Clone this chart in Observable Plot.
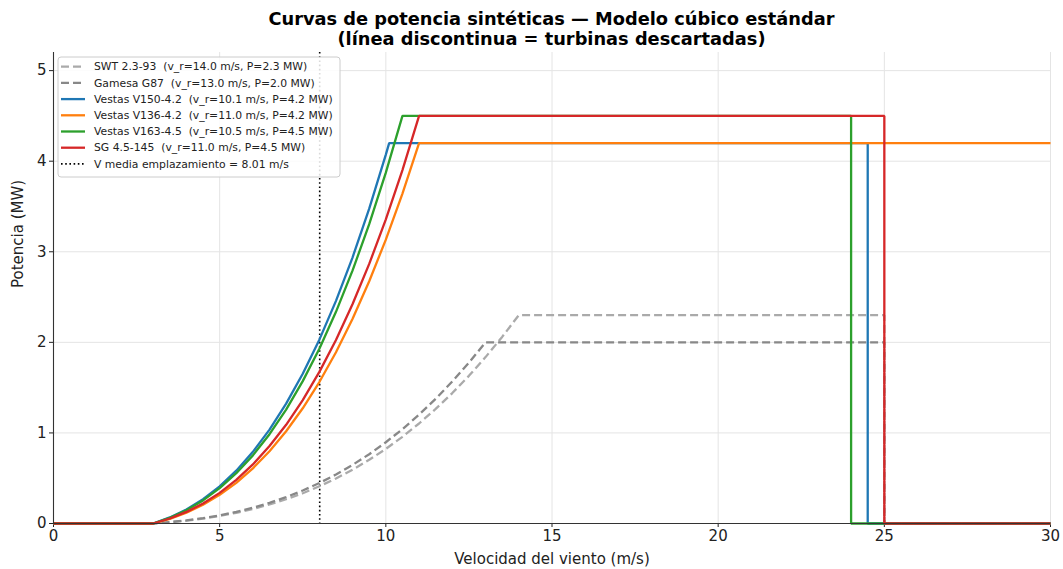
<!DOCTYPE html>
<html>
<head>
<meta charset="utf-8">
<script src="https://cdn.jsdelivr.net/npm/d3@7"></script>
<script src="https://cdn.jsdelivr.net/npm/@observablehq/plot@0.6"></script>
<style>
  html, body { margin: 0; padding: 0; background: white; }
  #title { width: 1103px; height: 50px; text-align: center; font-family: 'DejaVu Sans', sans-serif;
           font-weight: bold; font-size: 17.8px; line-height: 20px; color: #000; padding-top: 9px; box-sizing: border-box; }
</style>
</head>
<body>
<div id="title">Curvas de potencia sintéticas — Modelo cúbico estándar<br>(línea discontinua = turbinas descartadas)</div>
<div id="chart"></div>
<script>
// ---- Data ----
const turbines    = ["SWT 2.3-93", "Gamesa G87", "Vestas V150-4.2", "Vestas V136-4.2", "Vestas V163-4.5", "SG 4.5-145"];
const ratedSpeed  = [14.0, 13.0, 10.1, 11.0, 10.5, 11.0];
const ratedPower  = [2.3, 2.0, 4.2, 4.2, 4.5, 4.5];
const cutOut      = [25, 25, 24.5, null, 24, 25];
const discarded   = [true, true, false, false, false, false];
const colors      = ["#aaaaaa", "#888888", "#1f77b4", "#ff7f0e", "#2ca02c", "#d62728"];
const cutIn       = 3;
const vMean       = 8.01;

const rampSpeed   = [3, 3.5, 4, 4.5, 5, 5.5, 6, 6.5, 7, 7.5, 8, 8.5, 9, 9.5, 10, 10.5, 11, 11.5, 12, 12.5, 13, 13.5, 14];
const swtPower    = [0, 0.013, 0.031, 0.054, 0.083, 0.118, 0.160, 0.210, 0.268, 0.334, 0.411, 0.497, 0.594, 0.703, 0.824, 0.957, 1.104, 1.265, 1.440, 1.630, 1.837, 2.060, 2.3];
const gamesaPower = [0, 0.015, 0.034, 0.059, 0.090, 0.128, 0.174, 0.228, 0.291, 0.364, 0.447, 0.541, 0.647, 0.765, 0.897, 1.042, 1.202, 1.377, 1.568, 1.775, 2.0];
const v150Power   = [0, 0.067, 0.155, 0.268, 0.410, 0.583, 0.791, 1.037, 1.323, 1.653, 2.030, 2.458, 2.939, 3.476, 4.073];
const v136Power   = [0, 0.051, 0.119, 0.207, 0.316, 0.449, 0.609, 0.798, 1.018, 1.272, 1.562, 1.891, 2.261, 2.675, 3.134, 3.642, 4.2];
const v163Power   = [0, 0.063, 0.147, 0.255, 0.390, 0.555, 0.752, 0.986, 1.258, 1.572, 1.930, 2.337, 2.794, 3.305, 3.873, 4.5];
const sgPower     = [0, 0.055, 0.128, 0.221, 0.338, 0.481, 0.652, 0.855, 1.090, 1.363, 1.674, 2.026, 2.423, 2.866, 3.358, 3.902, 4.5];
const rampPowers  = [swtPower, gamesaPower, v150Power, v136Power, v163Power, sgPower];

const xTicks = [0, 5, 10, 15, 20, 25, 30];
const yTicks = [0, 1, 2, 3, 4, 5];
const xMax = 30, yMax = 5.2;
const xLabel = "Velocidad del viento (m/s)";
const yLabel = "Potencia (MW)";

// ---- Build series ----
const series = turbines.map((name, i) => {
  const pts = [{v: 0, p: 0}];
  rampPowers[i].forEach((p, j) => pts.push({v: rampSpeed[j], p}));
  const last = pts[pts.length - 1];
  if (last.v < ratedSpeed[i]) pts.push({v: ratedSpeed[i], p: ratedPower[i]});
  if (cutOut[i] != null) {
    pts.push({v: cutOut[i], p: ratedPower[i]});
    pts.push({v: cutOut[i], p: 0});
    pts.push({v: xMax, p: 0});
  } else {
    pts.push({v: xMax, p: ratedPower[i]});
  }
  return pts;
});

const lineMarks = series.map((pts, i) => Plot.line(pts, {
  x: "v", y: "p", stroke: colors[i], strokeWidth: 2.3,
  strokeDasharray: discarded[i] ? "8,4" : null,
  strokeLinejoin: "miter", strokeLinecap: "butt"
}));

const chart = Plot.plot({
  width: 1063, height: 519,
  marginLeft: 53, marginRight: 13, marginTop: 2, marginBottom: 46,
  x: {domain: [0, xMax]},
  y: {domain: [0, yMax]},
  style: {fontFamily: "'DejaVu Sans', sans-serif", fontSize: "15px", color: "#222", background: "white", overflow: "visible"},
  marks: [
    Plot.gridX(xTicks, {stroke: "#e4e4e4", strokeOpacity: 1, strokeWidth: 1}),
    Plot.gridY(yTicks, {stroke: "#e4e4e4", strokeOpacity: 1, strokeWidth: 1}),
    Plot.axisX({ticks: xTicks, tickSize: 4, tickPadding: 3, label: null, tickFormat: d => String(d), fontSize: 15}),
    Plot.axisY({ticks: yTicks, tickSize: 4, tickPadding: 3, label: null, tickFormat: d => String(d), fontSize: 15}),
    Plot.text([xLabel], {frameAnchor: "bottom", dy: 40, text: d => d, fontSize: 15, fill: "#222"}),
    Plot.text([yLabel], {frameAnchor: "left", dx: -35, rotate: -90, text: d => d, fontSize: 15, fill: "#222"}),
    Plot.ruleX([vMean], {stroke: "black", strokeWidth: 1.6, strokeDasharray: "1.6,2.6"}),
    ...lineMarks,
    Plot.ruleX([0], {stroke: "#333", strokeWidth: 1.1}),
    Plot.ruleY([0], {stroke: "#333", strokeWidth: 1.1})
  ]
});
document.getElementById("chart").appendChild(chart);

// ---- Legend (drawn into the SVG) ----
const svg = d3.select(chart);
const lg = svg.append("g").attr("transform", "translate(58,7)").attr("text-anchor", "start");
lg.append("rect").attr("width", 282).attr("height", 120).attr("rx", 3)
  .attr("fill", "white").attr("fill-opacity", 0.85).attr("stroke", "#cccccc").attr("stroke-width", 1);
const entries = turbines.map((name, i) => ({
  label: `${name}  (v_r=${ratedSpeed[i].toFixed(1)} m/s, P=${ratedPower[i].toFixed(1)} MW)`,
  color: colors[i], dash: discarded[i] ? "8,4" : null, width: 2.3
}));
entries.push({label: `V media emplazamiento = ${vMean.toFixed(2)} m/s`, color: "black", dash: "1.6,2.6", width: 1.6});
entries.forEach((e, i) => {
  const y = 9.7 + i * 16.2;
  lg.append("line").attr("x1", 3).attr("x2", 27).attr("y1", y).attr("y2", y)
    .attr("stroke", e.color).attr("stroke-width", e.width)
    .attr("stroke-dasharray", e.dash);
  lg.append("text").attr("x", 36).attr("y", y).attr("dy", "0.35em")
    .attr("text-anchor", "start")
    .attr("font-size", 10.8).attr("fill", "#222").style("white-space", "pre")
    .text(e.label);
});
</script>
</body>
</html>
